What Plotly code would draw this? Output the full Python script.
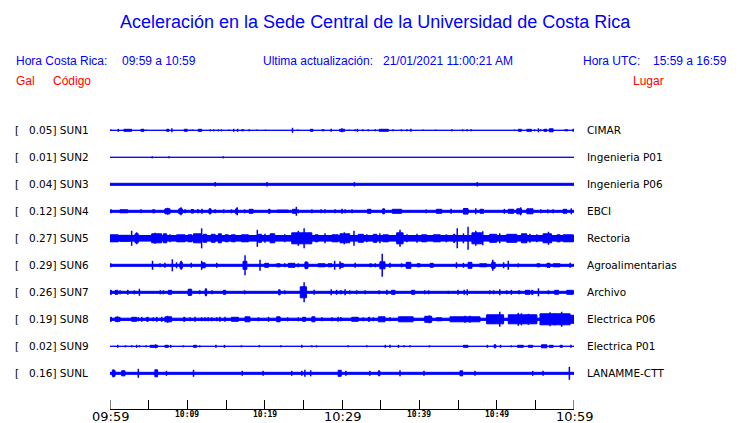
import plotly.graph_objects as go

# ---------------- data ----------------
stations = ["SUN1", "SUN2", "SUN3", "SUN4", "SUN5", "SUN6", "SUN7", "SUN8", "SUN9", "SUNL"]
peak_gal = [0.05, 0.01, 0.04, 0.12, 0.27, 0.29, 0.26, 0.19, 0.02, 0.16]
places = ["CIMAR", "Ingenieria P01", "Ingenieria P06", "EBCI", "Rectoria",
          "Agroalimentarias", "Archivo", "Electrica P06", "Electrica P01", "LANAMME-CTT"]
tick_minutes = [0, 10, 20, 30, 40, 50, 60]
tick_labels = ["09:59", "10:09", "10:19", "10:29", "10:39", "10:49", "10:59"]
minor_tick_minutes = [0, 5, 10, 15, 20, 25, 30, 35, 40, 45, 50, 55, 60]

# background noise half-amplitude of each trace (relative units)
floor_amp = [0.5, 0.5, 1.5, 1.5, 3.3, 1.5, 1.5, 1.6, 0.5, 1.5]

# bursts: (start minute, end minute, half amplitude); spikes: (minute, half amplitude)
SUN1_bursts = [(1.8, 2.8, 1.5), (4.0, 4.4, 1.5), (7.33, 7.63, 1.5), (9.6, 10.0, 1.5), (11.4, 11.85, 1.5),
               (17.0, 17.3, 1.0), (25.9, 26.25, 1.5), (27.4, 27.7, 1.0), (29.7, 30.35, 1.5), (34.8, 36.0, 1.5),
               (52.8, 53.2, 1.5), (53.9, 54.5, 1.5), (56.1, 56.5, 1.5), (56.8, 57.3, 2.0), (58.8, 59.2, 1.0)]
SUN1_spikes = [(0.13, 0.7), (1.08, 1.5), (4.7, 0.7), (8.0, 2.0), (10.4, 0.7), (10.7, 0.7), (12.97, 1.0),
               (13.4, 1.0), (14.0, 1.0), (14.4, 1.0), (15.4, 0.7), (16.0, 1.5), (16.5, 1.5), (18.0, 1.0),
               (19.0, 0.7), (20.1, 0.7), (23.6, 2.5), (24.3, 0.7), (28.6, 1.5), (30.0, 2.0), (30.95, 0.7),
               (31.7, 1.0), (32.0, 1.5), (32.7, 1.0), (33.4, 1.0), (34.3, 1.0), (36.6, 1.0), (37.7, 1.0),
               (38.4, 1.0), (38.9, 1.5), (40.5, 0.7), (42.1, 0.7), (44.2, 1.0), (45.6, 1.0), (46.2, 1.0),
               (46.7, 1.0), (52.3, 0.7), (54.9, 1.0), (55.4, 2.0), (55.7, 1.0), (59.9, 1.5)]

SUN2_bursts = []
SUN2_spikes = [(5.47, 1.0), (7.63, 1.0), (14.65, 1.0)]

SUN3_bursts = []
SUN3_spikes = [(13.6, 2.2), (20.3, 2.2), (31.6, 2.2), (47.5, 2.2)]

SUN4_bursts = [(1.29, 2.29, 2.0), (5.5, 5.8, 2.0), (7.1, 7.76, 3.0), (8.9, 9.35, 3.0), (10.5, 10.8, 2.3),
               (11.25, 11.5, 2.0), (12.8, 13.06, 3.0), (16.25, 16.5, 3.0), (18.0, 18.5, 2.5), (20.5, 20.7, 2.5),
               (21.6, 23.05, 1.7), (23.6, 24.1, 2.5), (33.3, 33.75, 2.5), (35.26, 35.5, 3.0), (36.5, 37.7, 2.5),
               (42.2, 42.9, 2.5), (45.7, 46.3, 3.3), (47.85, 48.3, 2.5), (51.5, 52.2, 2.5), (52.6, 53.2, 3.0),
               (53.9, 54.7, 3.0), (58.6, 59.06, 2.5)]
SUN4_spikes = [(0.13, 2.0), (4.0, 2.0), (7.46, 3.5), (9.18, 4.0), (9.7, 2.0), (11.9, 2.5), (13.6, 2.0),
               (14.7, 2.0), (15.7, 2.0), (16.45, 4.0), (17.4, 2.0), (24.1, 4.5), (24.35, 2.0), (26.1, 2.0),
               (27.3, 2.0), (27.8, 2.0), (29.1, 2.0), (30.0, 2.5), (30.4, 2.0), (31.3, 2.0), (40.9, 2.0),
               (44.1, 2.5), (47.3, 3.0), (51.0, 2.5), (53.1, 4.0), (55.7, 2.0), (56.6, 2.0), (57.3, 2.0),
               (59.65, 3.0)]

SUN5_bursts = [(0.0, 1.08, 4.0), (1.29, 2.59, 3.5), (3.23, 3.66, 5.0), (5.39, 6.68, 5.0), (6.9, 7.33, 5.0),
               (8.62, 9.7, 4.0), (10.1, 10.6, 4.0), (10.8, 11.85, 5.0), (12.07, 12.5, 4.5), (13.1, 13.6, 4.5),
               (14.0, 14.4, 5.0), (14.87, 15.3, 4.0), (15.7, 16.2, 4.0), (17.0, 17.9, 4.0), (19.2, 19.6, 4.5),
               (20.7, 21.3, 5.0), (23.5, 26.1, 6.0), (26.5, 26.9, 4.0), (28.7, 29.5, 4.0), (29.74, 31.0, 5.0),
               (32.1, 32.76, 4.5), (34.05, 34.5, 4.5), (35.3, 36.0, 4.0), (37.07, 37.9, 6.0), (40.3, 40.95, 4.0),
               (41.8, 42.7, 4.0), (44.4, 44.6, 4.5), (46.8, 48.07, 6.0), (49.1, 50.0, 4.5), (51.3, 52.6, 4.5),
               (53.2, 53.9, 5.0), (56.0, 57.1, 5.0), (57.8, 58.2, 4.0), (58.6, 59.9, 4.0)]
SUN5_spikes = [(2.8, 7.5), (3.45, 6.0), (5.82, 5.5), (7.76, 4.0), (11.85, 10.0), (19.05, 8.5), (20.04, 4.5),
               (22.6, 4.0), (24.35, 7.5), (25.1, 10.0), (27.8, 5.0), (30.3, 6.0), (31.55, 7.5), (33.2, 4.0),
               (34.9, 5.0), (37.5, 8.5), (38.4, 4.0), (39.7, 4.5), (43.5, 4.0), (44.9, 10.0), (45.7, 5.0),
               (46.3, 11.5), (47.3, 7.5), (48.2, 7.0), (50.4, 5.0), (54.3, 4.5), (55.2, 4.0), (56.7, 6.5)]

SUN6_bursts = [(9.05, 9.35, 3.5), (11.85, 12.3, 3.0), (17.2, 17.7, 4.5), (20.0, 20.5, 2.5), (21.55, 22.0, 2.0),
               (23.06, 23.9, 2.5), (25.2, 25.6, 3.5), (26.9, 27.8, 2.0), (28.2, 28.7, 2.0), (29.74, 30.17, 2.5),
               (33.6, 33.8, 2.0), (34.9, 35.56, 4.0), (38.3, 38.9, 3.5), (39.7, 40.1, 2.0), (41.4, 41.8, 2.5),
               (46.3, 46.8, 3.5), (47.8, 48.7, 2.0), (49.36, 49.8, 3.5), (55.2, 55.6, 2.0), (56.5, 56.9, 2.5),
               (57.3, 58.2, 2.0)]
SUN6_spikes = [(0.1, 2.0), (5.5, 4.5), (6.47, 2.0), (7.1, 2.5), (8.06, 6.0), (8.6, 3.0), (9.2, 4.5),
               (10.5, 2.5), (11.85, 4.5), (13.8, 2.5), (17.46, 10.0), (19.4, 5.5), (22.6, 2.0), (24.35, 2.0),
               (25.35, 4.0), (29.05, 4.5), (29.74, 4.0), (31.7, 2.5), (34.3, 2.0), (35.2, 11.5), (36.2, 2.5),
               (37.7, 2.0), (44.8, 3.0), (45.7, 2.5), (49.5, 5.5), (50.9, 3.0), (51.5, 4.5), (52.8, 2.0),
               (59.5, 2.5)]

SUN7_bursts = [(0.0, 0.2, 2.5), (0.65, 1.0, 2.5), (7.55, 7.97, 2.5), (10.1, 10.56, 3.5), (12.3, 12.5, 3.5),
               (14.65, 14.96, 2.5), (21.8, 22.0, 3.0), (24.6, 25.4, 6.0), (29.74, 29.96, 2.0), (36.4, 36.86, 2.5),
               (39.0, 39.4, 2.5), (52.8, 53.0, 2.0), (53.7, 54.3, 2.5), (54.5, 54.7, 2.5), (57.5, 58.0, 2.5),
               (59.06, 59.9, 2.5)]
SUN7_spikes = [(1.3, 2.0), (2.3, 2.5), (3.15, 2.0), (3.8, 3.5), (6.5, 2.0), (6.9, 2.0), (10.3, 3.5),
               (11.6, 2.0), (12.4, 4.0), (13.2, 2.0), (17.4, 2.0), (22.6, 2.0), (25.1, 10.0), (26.4, 2.5),
               (28.6, 3.0), (29.3, 2.5), (30.4, 3.0), (31.0, 2.0), (31.9, 2.0), (33.0, 2.0), (34.8, 2.0),
               (35.8, 2.5), (40.7, 2.0), (41.2, 2.0), (43.75, 1.5), (45.0, 2.5), (45.8, 2.5), (46.2, 3.0),
               (49.1, 2.0), (49.6, 2.0), (50.4, 3.0), (51.3, 2.0), (51.9, 2.5), (55.4, 4.0), (56.7, 2.0)]

SUN8_bursts = [(0.0, 0.2, 2.5), (0.65, 1.3, 2.5), (2.8, 3.45, 2.5), (4.74, 4.95, 2.5), (7.1, 7.97, 3.0),
               (9.5, 9.7, 2.5), (15.7, 16.6, 2.5), (17.46, 18.1, 3.0), (21.55, 22.0, 3.0), (24.9, 25.3, 2.5),
               (26.1, 26.5, 3.0), (29.74, 29.96, 2.0), (31.25, 32.1, 2.5), (33.4, 33.6, 2.5), (34.7, 35.56, 3.0),
               (37.3, 39.2, 3.0), (40.7, 41.6, 3.5), (42.2, 42.9, 2.0), (43.97, 47.85, 3.0), (48.7, 50.9, 5.0),
               (51.5, 55.2, 5.0), (55.6, 59.5, 6.0), (59.5, 60.0, 4.5)]
SUN8_spikes = [(0.95, 3.0), (3.66, 2.0), (4.1, 2.5), (5.6, 2.0), (6.04, 2.5), (6.68, 2.5), (7.46, 3.5),
               (10.35, 2.0), (11.0, 2.5), (11.85, 2.0), (12.3, 2.0), (12.7, 2.0), (13.15, 2.0), (13.8, 2.0),
               (14.2, 2.5), (14.87, 2.5), (19.2, 2.0), (20.5, 2.5), (22.97, 2.0), (24.35, 2.0), (27.4, 2.0),
               (28.7, 2.0), (29.5, 2.5), (32.76, 2.0), (34.05, 2.0), (36.2, 2.0), (41.3, 4.0), (44.6, 2.5),
               (45.9, 3.5), (46.55, 3.5), (49.6, 4.5), (50.4, 7.5), (52.8, 6.5), (53.2, 6.0), (54.1, 5.5),
               (54.7, 4.5), (56.9, 7.0), (57.5, 6.0), (58.4, 7.5)]

SUN9_bursts = [(5.17, 6.16, 1.5), (7.1, 7.55, 1.5), (10.8, 11.2, 1.5), (45.7, 46.3, 1.5), (49.66, 49.9, 2.0),
               (52.7, 53.45, 1.5), (54.1, 54.66, 1.5), (55.8, 56.5, 2.0), (56.8, 57.3, 1.5), (58.2, 58.5, 1.5)]
SUN9_spikes = [(1.0, 1.5), (2.0, 1.0), (2.8, 1.0), (3.45, 1.5), (3.8, 1.0), (4.66, 1.0), (5.9, 2.0),
               (7.85, 1.5), (9.5, 1.0), (11.6, 1.0), (13.7, 1.5), (14.8, 1.5), (17.0, 1.0), (19.3, 1.0),
               (22.1, 1.0), (24.8, 1.5), (26.1, 1.0), (26.7, 1.0), (30.8, 1.0), (33.2, 1.0), (35.6, 1.5),
               (36.2, 1.5), (37.3, 1.5), (38.0, 1.0), (38.8, 1.0), (41.3, 1.0), (48.8, 1.5), (50.5, 1.5),
               (51.9, 1.0), (59.6, 1.5)]

SUNL_bursts = [(0.3, 0.65, 3.5), (1.5, 1.94, 3.0), (5.8, 6.16, 4.0), (29.5, 29.9, 3.5), (34.7, 34.9, 3.0),
               (45.26, 45.6, 3.0)]
SUNL_spikes = [(0.43, 4.0), (3.66, 4.5), (7.3, 2.5), (10.8, 3.5), (17.1, 2.5), (19.8, 2.5), (23.5, 2.5),
               (24.8, 2.5), (25.2, 3.5), (25.95, 3.0), (30.5, 2.5), (33.6, 2.5), (37.5, 3.0), (40.6, 2.5),
               (47.2, 2.5), (54.66, 2.5), (56.0, 2.5), (59.4, 6.5)]

bursts = [SUN1_bursts, SUN2_bursts, SUN3_bursts, SUN4_bursts, SUN5_bursts,
          SUN6_bursts, SUN7_bursts, SUN8_bursts, SUN9_bursts, SUNL_bursts]
spikes = [SUN1_spikes, SUN2_spikes, SUN3_spikes, SUN4_spikes, SUN5_spikes,
          SUN6_spikes, SUN7_spikes, SUN8_spikes, SUN9_spikes, SUNL_spikes]

# ---------------- drawing ----------------
BLUE = "#0000ff"
ROW = 27.0            # pixels between traces -> amplitude units per row
T_END = 60

fig = go.Figure()

for i, st in enumerate(stations):
    # polygons: background band + bursts
    xs, ys = [], []
    segs = [(0, T_END, floor_amp[i])] + list(bursts[i])
    for (t0, t1, a) in segs:
        h = max(a - 0.5, 0) / ROW
        xs += [t0, t1, t1, t0, t0, None]
        ys += [i - h, i - h, i + h, i + h, i - h, None]
    fig.add_trace(go.Scatter(x=xs, y=ys, mode="lines", fill="toself", fillcolor=BLUE,
                             line=dict(color=BLUE, width=1), hoverinfo="skip", showlegend=False))
    # spikes
    sx, sy = [], []
    for (t, a) in spikes[i]:
        sx += [t, t, None]
        sy += [i - a / ROW, i + a / ROW, None]
    if sx:
        fig.add_trace(go.Scatter(x=sx, y=sy, mode="lines", line=dict(color=BLUE, width=1.5),
                                 hoverinfo="skip", showlegend=False))

# ---------------- layout ----------------
L, R, T, B = 110, 574, 100, 409
W, H = 740, 423


def px(x):
    return (x - L) / (R - L)


def py(y):
    return (B - y) / (B - T)


ann = []
SANS = "Liberation Sans, Arial, sans-serif"
DJ = "DejaVu Sans, sans-serif"

ann.append(dict(text="Aceleración en la Sede Central de la Universidad de Costa Rica",
                x=px(375), y=py(22), font=dict(family=SANS, size=18, color=BLUE),
                xanchor="center"))
for txt, x0 in [("Hora Costa Rica:", 14), ("09:59 a 10:59", 120), ("Ultima actualización:", 261),
                ("21/01/2021 11:00:21 AM", 381), ("Hora UTC:", 581), ("15:59 a 16:59", 651)]:
    ann.append(dict(text=txt, x=px(x0), y=py(61), xanchor="left",
                    font=dict(family=SANS, size=12, color=BLUE)))
for txt, x0 in [("Gal", 14), ("Código", 51), ("Lugar", 631)]:
    ann.append(dict(text=txt, x=px(x0), y=py(81), xanchor="left",
                    font=dict(family=SANS, size=12, color="#ff0000")))

for i, st in enumerate(stations):
    yv = py(130.3 + ROW * i)
    ann.append(dict(text="[", x=px(13), y=yv, xanchor="left", font=dict(family=DJ, size=10.5, color="black")))
    ann.append(dict(text=f"{peak_gal[i]:.2f}] {st}", x=px(27), y=yv, xanchor="left",
                    font=dict(family=DJ, size=10.5, color="black")))
    ann.append(dict(text=places[i], x=px(585), y=yv, xanchor="left",
                    font=dict(family=DJ, size=10.5, color="black")))

for m, lab in zip(tick_minutes, tick_labels):
    big = m in (0, 30, 60)
    ann.append(dict(text=lab if big else f"<b>{lab}</b>", x=m / T_END,
                    y=py(416 if big else 414.5), xanchor="center",
                    font=dict(family="DejaVu Sans, sans-serif" if big else "DejaVu Sans Mono, monospace",
                              size=13 if big else 8, color="black")))

for a in ann:
    a.update(xref="paper", yref="paper", yanchor="middle", showarrow=False)

# end ticks at the axis limits
shapes = [dict(type="line", xref="x", yref="paper", x0=m, x1=m, y0=0, y1=9 / (B - T),
               line=dict(color="black", width=1)) for m in (0, T_END)]

y_top = -(130.3 - T) / ROW
y_bot = (B - 130.3) / ROW

fig.update_layout(
    width=W, height=H,
    margin=dict(l=L, r=W - R, t=T, b=H - B),
    paper_bgcolor="white", plot_bgcolor="white",
    showlegend=False,
    annotations=ann,
    shapes=shapes,
    xaxis=dict(range=[0, T_END], tickvals=minor_tick_minutes, ticks="inside", ticklen=9,
               tickcolor="black", tickwidth=1, showticklabels=False, showline=True,
               linecolor="black", linewidth=1, showgrid=False, zeroline=False, fixedrange=True),
    yaxis=dict(range=[y_bot, y_top], visible=False, showgrid=False, zeroline=False, fixedrange=True),
)

fig.write_html("out.html", config={"displayModeBar": False},
               post_script="document.body.style.margin='0px';document.body.style.overflow='hidden';")
